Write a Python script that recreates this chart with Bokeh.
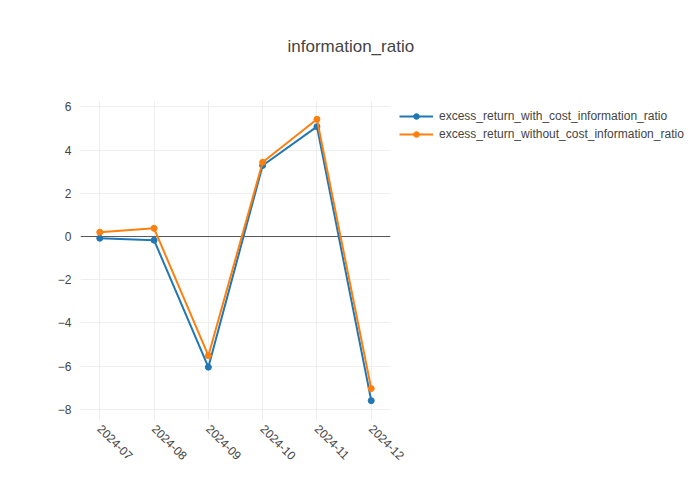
import math
from bokeh.plotting import figure
from bokeh.models import ColumnDataSource, Span, Legend, LegendItem, FixedTicker
from bokeh.embed import file_html
from bokeh.resources import INLINE

months = ["2024-07", "2024-08", "2024-09", "2024-10", "2024-11", "2024-12"]
with_cost = [-0.08, -0.17, -6.05, 3.29, 5.09, -7.60]
without_cost = [0.20, 0.38, -5.52, 3.44, 5.43, -7.04]
y_ticks = [-8, -6, -4, -2, 0, 2, 4, 6]

FONT = "Liberation Sans"
TXT = "#444444"

xs = list(range(len(months)))
src = ColumnDataSource(dict(x=xs, w=with_cost, wo=without_cost))

p = figure(width=690, height=490, output_backend="svg", toolbar_location=None,
           x_range=(-0.355, len(months) - 1 + 0.355), y_range=(-8.52, 6.3),
           min_border_left=80, min_border_top=100, min_border_bottom=60,
           min_border_right=10)
p.frame_width = 310
p.frame_height = 320
p.outline_line_color = None
p.background_fill_color = "white"
p.border_fill_color = "white"

p.title.text = "information_ratio\n"
p.title.text_font = FONT
p.title.text_font_size = "17px"
p.title.text_font_style = "normal"
p.title.text_color = TXT
p.title.align = "left"
p.title.offset = 207
p.title.standoff = 52

for ax in (p.xaxis[0], p.yaxis[0]):
    ax.axis_line_color = None
    ax.major_tick_line_color = None
    ax.minor_tick_line_color = None
    ax.major_label_text_font = FONT
    ax.major_label_text_font_size = "12px"
    ax.major_label_text_color = TXT

p.xaxis[0].ticker = FixedTicker(ticks=xs)
p.xaxis[0].major_label_overrides = {i: m for i, m in enumerate(months)}
p.xaxis[0].major_label_orientation = -math.pi / 4
p.xaxis[0].major_label_standoff = 0

p.yaxis[0].ticker = FixedTicker(ticks=y_ticks)
p.yaxis[0].major_label_overrides = {t: (str(t).replace("-", "\u2212")) for t in y_ticks}
p.yaxis[0].major_label_standoff = 3

p.xgrid.grid_line_color = "#eeeeee"
p.ygrid.grid_line_color = "#eeeeee"
p.xgrid.ticker = FixedTicker(ticks=xs)
p.ygrid.ticker = FixedTicker(ticks=y_ticks)

zero = Span(location=0, dimension="width", line_color="#555555", line_width=1, level="underlay")
p.add_layout(zero)

blue = "#1f77b4"
orange = "#ff7f0e"
l1 = p.line("x", "w", source=src, line_color=blue, line_width=2)
m1 = p.scatter("x", "w", source=src, size=6, fill_color=blue, line_color=blue)
l2 = p.line("x", "wo", source=src, line_color=orange, line_width=2)
m2 = p.scatter("x", "wo", source=src, size=6, fill_color=orange, line_color=orange)

legend = Legend(items=[
    LegendItem(label="excess_return_with_cost_information_ratio", renderers=[l1, m1]),
    LegendItem(label="excess_return_without_cost_information_ratio", renderers=[l2, m2]),
], location="top_left")
legend.border_line_color = None
legend.background_fill_alpha = 0
legend.label_text_font = FONT
legend.label_text_font_size = "12px"
legend.label_text_color = TXT
legend.glyph_width = 34
legend.glyph_height = 14
legend.spacing = 4
legend.padding = 0
legend.margin = 9
legend.label_standoff = 6
legend.label_height = 14
p.add_layout(legend, "right")

open("out.html", "w").write(file_html(p, INLINE))
